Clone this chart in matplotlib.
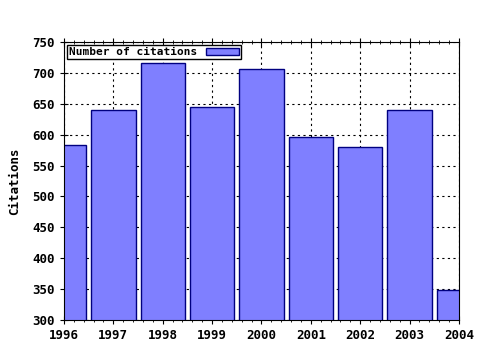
import matplotlib
matplotlib.use("Agg")
import matplotlib.pyplot as plt
from matplotlib.ticker import AutoMinorLocator

years = [1996, 1997, 1998, 1999, 2000, 2001, 2002, 2003, 2004]
citations = [583, 640, 716, 645, 706, 596, 580, 640, 349]

plt.rcParams['font.family'] = 'DejaVu Sans Mono'
plt.rcParams['font.weight'] = 'bold'
plt.rcParams['font.size'] = 9

fig = plt.figure(figsize=(4.8, 3.5), dpi=100)
ax = fig.add_axes([0.1333, 0.0857, 0.8229, 0.7943])

ax.bar(years, citations, width=0.9, color='#7f7fff', edgecolor='#000080',
       linewidth=1, label='Number of citations', zorder=2)

ax.set_xlim(1996, 2004)
ax.set_ylim(300, 750)
ax.set_xticks(years)
ax.set_yticks(range(300, 751, 50))
ax.xaxis.set_minor_locator(AutoMinorLocator(5))
ax.grid(True, which='major', linestyle=(0, (2, 3)), color='black', linewidth=0.8, zorder=0)
ax.tick_params(which='both', direction='inout', right=False)
ax.tick_params(which='major', length=6)
ax.tick_params(which='minor', length=3)
ax.tick_params(axis='x', which='both', top=True)
ax.set_ylabel('Citations', labelpad=8, fontweight='bold')

leg = ax.legend(loc='upper left', markerfirst=False, fancybox=False, framealpha=1,
                edgecolor='black', borderpad=0.15, handlelength=3.0, handleheight=0.6,
                handletextpad=0.8, borderaxespad=0.3, prop={'size': 8, 'weight': 'bold'})
leg.get_frame().set_linewidth(1)

fig.savefig('out.png', dpi=100)
